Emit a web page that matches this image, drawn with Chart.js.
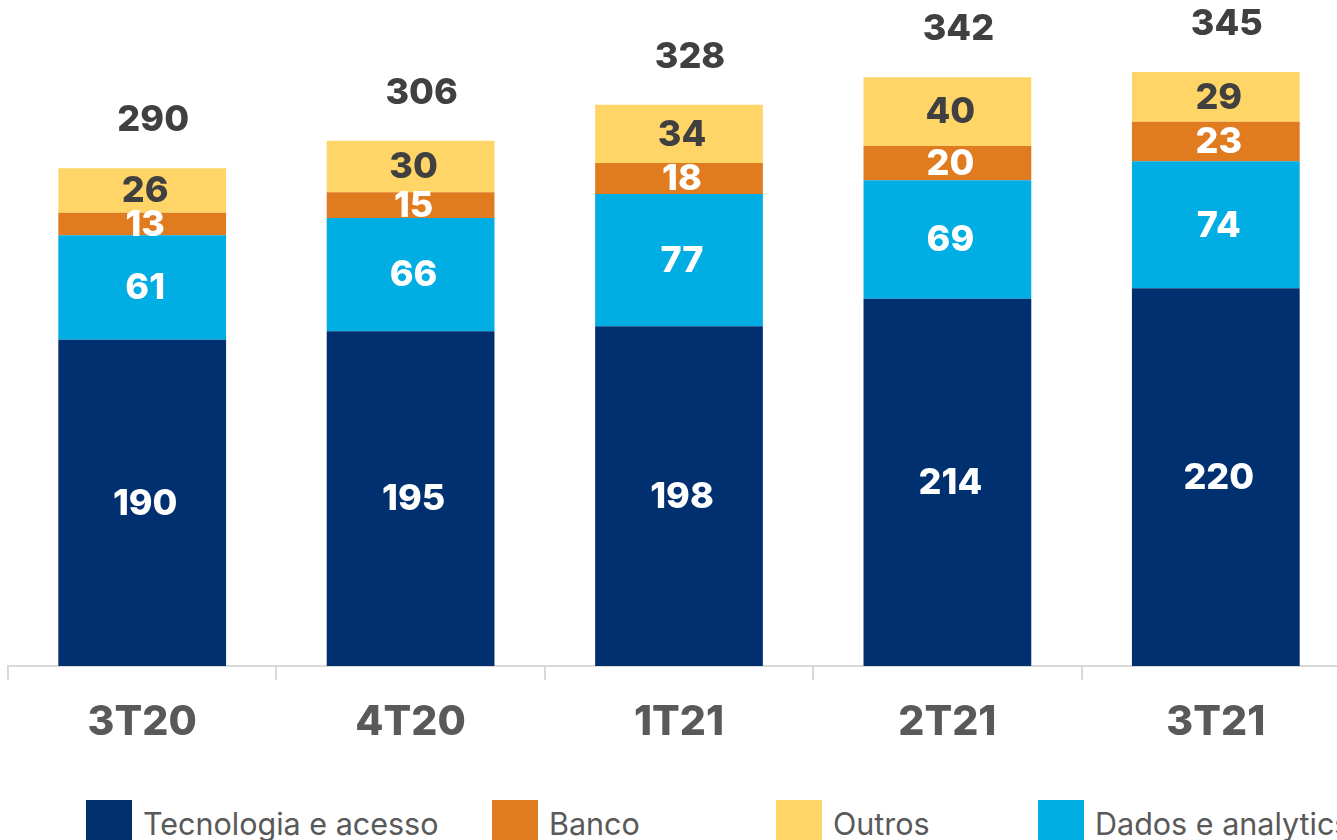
<!DOCTYPE html>
<html>
<head>
<meta charset="utf-8">
<script src="https://cdn.jsdelivr.net/npm/chart.js@4.4.0/dist/chart.umd.min.js"></script>
<style>
  html, body { margin: 0; padding: 0; background: #fff; overflow: hidden; }
  #wrap { position: absolute; left: 0; top: 0; width: 1350px; height: 770px; }
  #legend { position: absolute; left: 0; top: 800px; width: 1337px; height: 60px; font-family: Inter, sans-serif; }
  .item { position: absolute; top: 0; display: flex; align-items: flex-start; white-space: nowrap; }
  .box { width: 46px; height: 46px; margin-right: 11px; }
  .lbl { font-size: 30.5px; color: #595959; line-height: 46px; margin-top: 1px; }
</style>
</head>
<body>
<div id="wrap"><canvas id="myChart"></canvas></div>
<div id="legend"></div>
<script>
// categories + series (stack order bottom -> top)
var quarters = ['3T20', '4T20', '1T21', '2T21', '3T21'];
var tecnologia = [190, 195, 198, 214, 220];
var dados = [61, 66, 77, 69, 74];
var banco = [13, 15, 18, 20, 23];
var outros = [26, 30, 34, 40, 29];
var totais = [290, 306, 328, 342, 345];

var navy = '#00306F', cyan = '#00AEE4', orange = '#E07B20', yellow = '#FED566';

// labels inside segments + totals on top
const labelPlugin = {
  id: 'labelPlugin',
  afterDatasetsDraw(chart) {
    const ctx = chart.ctx;
    ctx.save();
    ctx.textAlign = 'center';
    ctx.textBaseline = 'middle';
    ctx.font = '800 36px Inter, sans-serif';
    chart.data.datasets.forEach((ds, i) => {
      const meta = chart.getDatasetMeta(i);
      meta.data.forEach((bar, j) => {
        ctx.fillStyle = ds.label == 'Outros' ? '#404040' : '#ffffff';
        ctx.fillText(ds.data[j], bar.x + 3, (bar.y + bar.base) / 2 + 1);
      });
    });
    // totals sit a bit right of the bar centre in the original
    const top = chart.getDatasetMeta(chart.data.datasets.length - 1);
    ctx.fillStyle = '#404040';
    top.data.forEach((bar, j) => {
      ctx.fillText(totais[j], bar.x + 11, bar.y - 48);
    });
    ctx.restore();
  }
};

let myChart = new Chart('myChart', {
  type: 'bar',
  data: {
    labels: quarters,
    datasets: [
      { label: 'Tecnologia e acesso', backgroundColor: navy, data: tecnologia },
      { label: 'Dados e analytics', backgroundColor: cyan, data: dados },
      { label: 'Banco', backgroundColor: orange, data: banco },
      { label: 'Outros', backgroundColor: yellow, data: outros }
    ]
  },
  options: {
    responsive: true,
    maintainAspectRatio: false,
    animation: false,
    layout: { padding: { left: 8, right: 0, top: 0, bottom: 0 } },
    datasets: { bar: { categoryPercentage: 1, barPercentage: 0.625, borderWidth: 0 } },
    plugins: { legend: { display: false }, tooltip: { enabled: false } },
    scales: {
      x: {
        stacked: true,
        offset: true,
        grid: { offset: true, drawOnChartArea: false, drawTicks: true, tickLength: 14, color: '#D9D9D9', lineWidth: 2 },
        border: { color: '#D9D9D9', width: 2 },
        ticks: { color: '#595959', padding: 18, font: { family: 'Inter', size: 41, weight: '800' } },
        afterFit(scale) { scale.height = 104; }
      },
      y: { stacked: true, display: false, min: 0, max: 388 }
    }
  },
  plugins: [labelPlugin]
});

// legend in fixed columns like the original
var legendItems = [
  ['Tecnologia e acesso', navy, 86],
  ['Banco', orange, 492],
  ['Outros', yellow, 776],
  ['Dados e analytics', cyan, 1038]
];
var lg = document.getElementById('legend');
legendItems.forEach(function (it) {
  var d = document.createElement('div');
  d.className = 'item';
  d.style.left = it[2] + 'px';
  d.innerHTML = '<div class="box" style="background:' + it[1] + '"></div><span class="lbl">' + it[0] + '</span>';
  lg.appendChild(d);
});
</script>
</body>
</html>
